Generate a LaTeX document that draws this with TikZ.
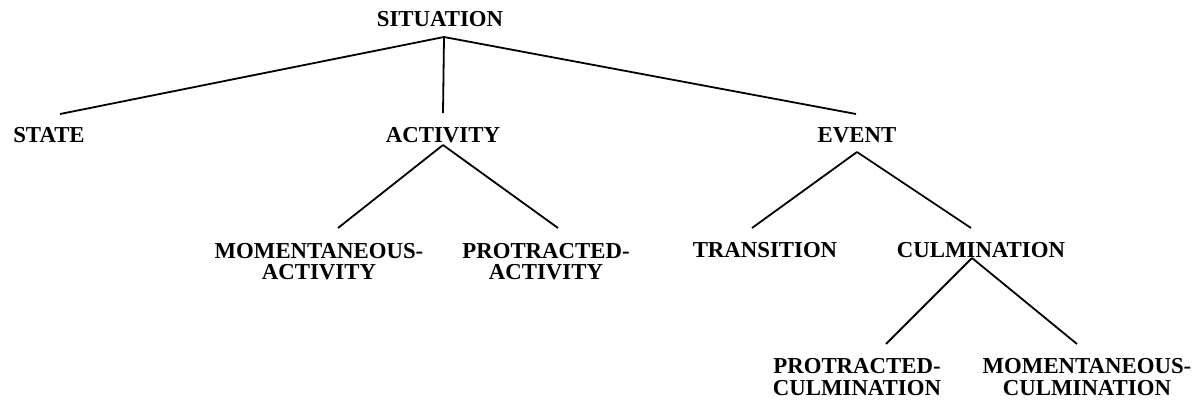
\documentclass[tikz,border=0pt]{standalone}
\usepackage{fontspec}
\setmainfont{Liberation Serif}
\begin{document}
\begin{tikzpicture}[x=1pt,y=-1pt,
  label/.style={font=\fontsize{22.8}{21.5}\selectfont\bfseries, inner sep=0pt, anchor=base, align=center},
  branch/.style={line width=1.8pt}]
\useasboundingbox (0,0) rectangle (1200,405);

% category labels (base anchor = baseline of the last line)
\node[label] (sit)   at (440,26)  {SITUATION};
\node[label] (state) at (49,142)  {STATE};
\node[label] (act)   at (443,142) {ACTIVITY};
\node[label] (evt)   at (857,142) {EVENT};
\node[label] (mact)  at (319,279.5) {MOMENTANEOUS-\\ACTIVITY};
\node[label] (pact)  at (546,279.5) {PROTRACTED-\\ACTIVITY};
\node[label] (trans) at (765,257) {TRANSITION};
\node[label] (culm)  at (981,257) {CULMINATION};
\node[label] (pculm) at (857,395) {PROTRACTED-\\CULMINATION};
\node[label] (mculm) at (1087,395) {MOMENTANEOUS-\\CULMINATION};

% junction points under each parent
\coordinate (sit-j)  at ([shift={(4,11)}]sit.base);
\coordinate (act-j)  at ([shift={(0,3)}]act.base);
\coordinate (evt-j)  at ([shift={(0,10)}]evt.base);
\coordinate (culm-j) at ([shift={(-9,1)}]culm.base);

% branch ends above each child
\coordinate (state-t) at ([shift={(11,-28)}]state.base);
\coordinate (act-t)   at ([shift={(0,-29)}]act.base);
\coordinate (evt-t)   at ([shift={(-1,-28)}]evt.base);
\coordinate (mact-t)  at ([shift={(19,-51.5)}]mact.base);
\coordinate (pact-t)  at ([shift={(12,-51.5)}]pact.base);
\coordinate (trans-t) at ([shift={(-13,-29)}]trans.base);
\coordinate (culm-t)  at ([shift={(-10,-29)}]culm.base);
\coordinate (pculm-t) at ([shift={(29,-51)}]pculm.base);
\coordinate (mculm-t) at ([shift={(-10,-51)}]mculm.base);

\draw[branch] (sit-j) -- (state-t);
\draw[branch] (sit-j) -- (act-t);
\draw[branch] (sit-j) -- (evt-t);
\draw[branch] (act-j) -- (mact-t);
\draw[branch] (act-j) -- (pact-t);
\draw[branch] (evt-j) -- (trans-t);
\draw[branch] (evt-j) -- (culm-t);
\draw[branch] (culm-j) -- (pculm-t);
\draw[branch] (culm-j) -- (mculm-t);
\end{tikzpicture}
\end{document}
